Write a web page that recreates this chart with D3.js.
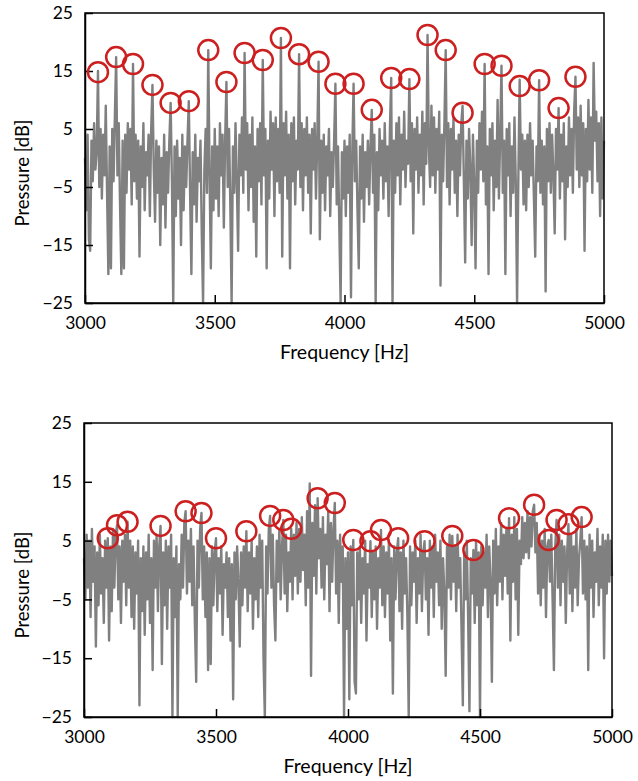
<!DOCTYPE html>
<html>
<head>
<meta charset="utf-8">
<script src="https://cdnjs.cloudflare.com/ajax/libs/d3/7.8.5/d3.min.js"></script>
<style>
  body { margin: 0; background: #fff; }
  svg text { font-family: Lato, "Open Sans", sans-serif; fill: #000; }
</style>
</head>
<body>
<div id="chart"></div>
<script>
// Axis ticks
var xTicks = [3000, 3500, 4000, 4500, 5000];
var yTicks = [-25, -15, -5, 5, 15, 25];

var frequencies = d3.range(3000, 5001, 5);

var topPressure = [
  0, -9, 4, -14, -16, 3, -4, 6, -2, 1, 15, -5, 5, -7, 4, -3, 9, -6, -20, 2,
  -19, 5, -4, 7, 17.4, -3, 6, -8, -20, 3, -19, 4, -6, 6, -2, 5, -8, 16.2, -4, 4,
  -7, 3, -17, 2, -5, 6, -9, 1, -3, 4, -10, 5, 12.6, -2, -11, 3, -6, 2, -15, 0,
  -8, 4, -12, 1, -6, 3, 9.5, -4, -25, 2, -10, 3, -7, 0, -15, 4, -9, 2, -5, 3,
  9.8, -6, -20, 1, -8, 4, -11, 0, -4, 3, -13, -25, -2, 5, -6, 18.6, -3, -19, 2, -9,
  5, -7, 2, -10, 6, -3, 4, -12, 3, 13.1, -5, 5, -8, -25, 2, -6, 6, -4, -16, 4,
  -3, 7, -6, 18.1, -2, 6, -9, 4, -5, 7, -11, 2, -17, 5, -4, 6, -8, 16.9, -3, 5,
  -19, 3, -7, 8, -2, 6, -10, 7, -4, 5, -6, 20.7, -17, 6, -3, 8, -7, 4, -19, 6,
  -4, 7, -8, 3, -2, 17.9, -5, 6, -9, 5, -3, 7, -6, 4, -13, 5, -2, 6, -7, 3,
  16.6, -14, 3, -6, 4, -9, 2, -3, 5, -10, 1, -5, 3, 12.8, -8, 2, -12, -25, 1, -7,
  3, -10, 2, -6, 4, -24, 1, 12.8, -4, 3, -9, -19, 2, -7, 4, -11, 1, -5, 3, -8,
  2, 8.3, -6, 4, -25, 1, -9, 5, -3, 3, -7, 6, -4, 2, -10, 5, 13.8, -25, 3, -6,
  6, -3, 7, -8, 4, -2, 8, -5, 3, -1, 13.6, -4, 6, -13, 5, -2, 7, -6, 4, -3,
  8, -8, 6, -1, 21.2, 2, -5, 9, -3, 7, -6, 5, -2, 8, -22, 4, -4, 6, 18.6, -5,
  6, -8, 5, -2, 7, -6, 3, -10, 4, -3, 6, 9, -4, -18, 3, -7, 5, -2, -15, 4,
  -5, -19, 3, -6, 6, -2, 8, -4, 16.2, -8, 2, -20, 5, -3, 6, -9, 3, -5, 10, -7,
  4, 15.9, -6, 3, -20, 5, -3, 6, -10, 2, -6, 7, -4, -25, -3, 13.5, -2, 4, -8, 3,
  -9, 4, -5, 6, -3, 3, -7, -17, 2, -4, 13.4, -6, 3, -8, 2, -23, 5, -4, 6, -6,
  4, -3, -13, 5, -2, 8.6, -7, 4, -4, 6, -14, 2, -5, 7, -3, 5, -6, 8, 14, -2,
  7, -5, 9, -3, 6, -16, 5, -4, 10, -2, 7, -6, 16.4, 3, 8, -4, 6, -10, 7, -7,
  3
];

var bottomPressure = [
  2, -5, 6, -3, 5, -8, 7, -2, 4, -13, 3, -6, 6, -4, 2, -9, 5, -3, 5.4, -12,
  4, -7, 7, -3, 6, 7.6, -5, 4, -9, 5, -2, 6, -6, 8.2, -3, 5, -8, 4, -10, 3,
  -4, 5, -23, 2, -7, 4, -11, 3, -5, 6, -9, 2, -17, 5, -3, 6, -7, 4, 7.5, -16,
  3, -6, 5, -10, 4, -3, 6, -25, 2, -8, 4, -25, 1, -5, 6, -3, 8, 10, -4, 5,
  -2, 7, -6, 4, -9, -19, 5, -3, 7, 9.7, -5, 4, -8, 3, -17, 2, -16, 4, -6, 3,
  5.4, -7, 2, -4, 4, -11, 1, -3, 3, -8, 2, -12, 1, -22, 3, -5, 4, -2, -13, 3,
  -6, 4, -3, 6.6, -7, 3, -4, 5, -10, 2, -5, 4, -8, 6, -3, 5, -15, -25, 4, -4,
  7, 9.2, -3, 6, -6, -12, 5, -2, 7, -5, 4, 8.5, -4, 6, -7, 3, -2, 7, -5, 6,
  -1, 8, -4, 7, -2, 9, 0, 6, -6, 10, -3, 14.7, -18, 8, -1, 11, -4, 12.2, 2, 7,
  -3, 9, -5, 6, 1, 10, -7, 8, -2, 7, 11.4, -4, 5, -9, 6, -2, 4, -25, 2, -10,
  3, -22, 4, -6, 5.1, -19, -21, 3, -5, 4, -9, 2, -4, 5, -12, 1, -3, 4.9, -8, 3,
  -5, 4, -10, 2, -3, 6.8, -6, 4, -8, 3, -4, 5, -12, 2, -21, 4, -5, 3, 5.4, -7,
  3, -10, 5, -4, 2, -8, -25, 4, -6, 3, -2, 5, -9, 2, -4, 6, -7, 3, 4.9, -5,
  2, -11, 5, -3, 4, -8, 6, -2, 3, -6, 5, -10, 2, -4, -18, 4, -3, 6, -5, 5.8,
  -2, 4, -7, 6, -3, 2, -10, -23, 3, -5, 5, -8, -24, 2, -4, 3.4, -9, 5, -6, 3,
  -25, 4, -6, 3, -3, 6, -8, 4, -2, -19, 5, -4, 7, -6, 4, -2, 8, -5, 6, -1,
  7, -4, 8.8, -12, 6, -2, 9, -5, 7, -11, 5, 1, 9, 2, 8, 3, 10, 2, 9, 4,
  10, 11.1, 3, 8, -4, 6, -6, 5, -3, 7, -8, 4, 5.1, -2, 6, -5, -17, 4, 8.5, -3,
  6, -6, 5, -2, 4, -9, 3, 7.8, -4, 6, -7, 4, -3, 7, -6, 2, 5, 9, -4, 5,
  -5, 4, -17, 6, -3, 5, -8, 3, -2, 7, -6, 4, -3, 6, -15, 5, -4, 6, -2, 5,
  -1
];

// Marked peaks (red circles)
var topPeakFreq = [3050, 3120, 3185, 3260, 3330, 3400, 3475, 3545, 3615, 3685, 3755, 3825, 3900, 3965,
  4035, 4105, 4180, 4250, 4320, 4390, 4455, 4540, 4605, 4675, 4750, 4825, 4890];
var topPeakDb = [14.8, 17.4, 16.2, 12.6, 9.5, 9.8, 18.6, 13.1, 18.1, 16.9, 20.7, 17.9, 16.6, 12.8,
  12.8, 8.3, 13.8, 13.6, 21.2, 18.6, 7.8, 16.2, 15.9, 12.4, 13.4, 8.6, 14.0];

var bottomPeakFreq = [3090, 3125, 3165, 3290, 3385, 3445, 3500, 3615, 3705, 3755, 3785, 3885, 3950,
  4020, 4085, 4125, 4190, 4290, 4395, 4475, 4610, 4705, 4760, 4790, 4835, 4885];
var bottomPeakDb = [5.4, 7.6, 8.2, 7.5, 10.0, 9.7, 5.4, 6.6, 9.2, 8.5, 7.0, 12.2, 11.4,
  5.1, 4.9, 6.8, 5.4, 4.9, 5.8, 3.4, 8.8, 11.1, 5.1, 8.5, 7.8, 9.0];

var width = 638, height = 781;

var svg = d3.select("#chart")
  .append("svg")
  .attr("width", width)
  .attr("height", height);

function drawPanel(box, values, peakF, peakV) {
  var x = d3.scaleLinear().domain([3000, 5000]).range([box.left, box.right]);
  var y = d3.scaleLinear().domain([-25, 25]).range([box.bottom, box.top]);

  var g = svg.append("g");

  var data = frequencies.map(function(f, i) { return {f: f, v: values[i]}; });

  var line = d3.line()
    .x(function(d) { return x(d.f); })
    .y(function(d) { return y(d.v); });

  g.append("path")
    .datum(data)
    .attr("d", line)
    .attr("fill", "none")
    .attr("stroke", "#808080")
    .attr("stroke-width", 2.4)
    .attr("stroke-linejoin", "round");

  // frame
  g.append("rect")
    .attr("x", box.left)
    .attr("y", box.top)
    .attr("width", box.right - box.left)
    .attr("height", box.bottom - box.top)
    .attr("fill", "none")
    .attr("stroke", "#000")
    .attr("stroke-width", 1.5);

  // axes with inward ticks
  var xAxis = d3.axisBottom(x).tickValues(xTicks).tickFormat(d3.format("d"))
    .tickSizeInner(-8).tickSizeOuter(0).tickPadding(14);
  var yAxis = d3.axisLeft(y).tickValues(yTicks).tickFormat(d3.format("d"))
    .tickSizeInner(-8).tickSizeOuter(0).tickPadding(12);

  var gx = g.append("g").attr("transform", "translate(0," + box.bottom + ")").call(xAxis);
  var gy = g.append("g").attr("transform", "translate(" + box.left + ",0)").call(yAxis);
  [gx, gy].forEach(function(a) {
    a.select(".domain").attr("stroke", "#000").attr("stroke-width", 1.5);
    a.selectAll(".tick line").attr("stroke", "#000").attr("stroke-width", 1.5);
    a.selectAll(".tick text").attr("font-size", 17.5).attr("font-family", "Lato, 'Open Sans', sans-serif");
  });

  g.selectAll(".peak")
    .data(peakF)
    .enter()
    .append("circle")
    .attr("class", "peak")
    .attr("cx", function(d) { return x(d); })
    .attr("cy", function(d, i) { return y(peakV[i]); })
    .attr("r", 10)
    .attr("fill", "none")
    .attr("stroke", "#cc1f1f")
    .attr("stroke-width", 2.5);

  g.append("text")
    .attr("x", (box.left + box.right) / 2)
    .attr("y", box.bottom + 56)
    .attr("text-anchor", "middle")
    .attr("font-size", 19.5)
    .text("Frequency [Hz]");

  g.append("text")
    .attr("transform", "translate(29," + ((box.top + box.bottom) / 2 + 15) + ") rotate(-90)")
    .attr("text-anchor", "middle")
    .attr("font-size", 18.5)
    .text("Pressure [dB]");
}

drawPanel({left: 85, right: 604, top: 13, bottom: 303}, topPressure, topPeakFreq, topPeakDb);
drawPanel({left: 84, right: 612, top: 423, bottom: 717}, bottomPressure, bottomPeakFreq, bottomPeakDb);
</script>
</body>
</html>
